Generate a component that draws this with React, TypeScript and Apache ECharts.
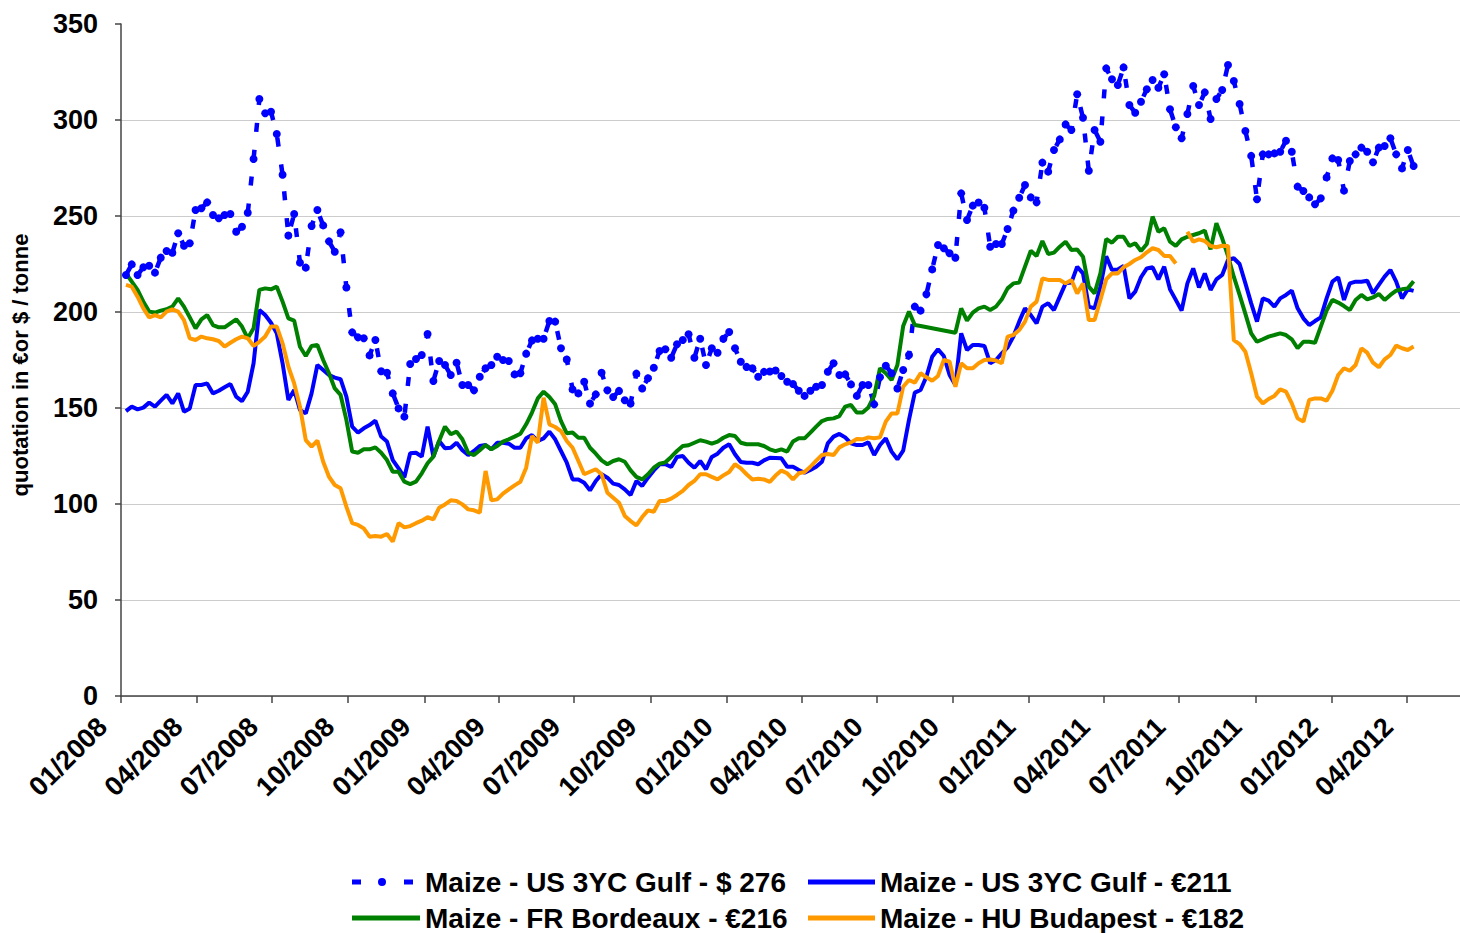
import React, { useEffect, useRef } from "react";
import * as echarts from "echarts";

// Weekly quotations starting Monday 7 Jan 2008
const FIRST_WEEK = "2008-01-07";

const TICK_LABELS = [
  "01/2008", "04/2008", "07/2008", "10/2008", "01/2009", "04/2009",
  "07/2009", "10/2009", "01/2010", "04/2010", "07/2010", "10/2010",
  "01/2011", "04/2011", "07/2011", "10/2011", "01/2012", "04/2012",
];

const SERIES_NAMES = [
  "Maize - US 3YC Gulf - $ 276",
  "Maize - US 3YC Gulf - €211",
  "Maize - FR Bordeaux - €216",
  "Maize - HU Budapest - €182",
];

const usGulfUsd = [
  219.3, 224.8, 219.3, 223.3, 224.1, 220.5, 228.3, 231.8, 230.9, 241.0,
  234.5, 235.8, 253.1, 254.0, 257.1, 250.5, 248.8, 250.5, 251.0, 241.8,
  244.4, 251.7, 279.7, 310.9, 303.5, 304.3, 292.7, 271.5, 239.8, 251.0,
  225.7, 223.1, 244.8, 253.1, 245.1, 236.8, 231.4, 241.5, 212.8, 189.4,
  186.8, 186.3, 177.4, 185.4, 169.1, 168.4, 157.6, 149.8, 145.5, 172.9,
  175.5, 177.6, 188.5, 164.1, 174.5, 172.4, 167.2, 173.6, 162.0, 162.0,
  159.2, 166.3, 170.7, 172.4, 176.7, 175.0, 174.5, 167.5, 168.1, 178.3,
  185.2, 186.1, 186.1, 195.3, 195.0, 181.1, 175.3, 159.7, 157.6, 163.7,
  152.3, 157.1, 168.4, 159.2, 155.7, 158.9, 154.0, 152.3, 167.9, 160.2,
  165.5, 171.0, 179.7, 180.6, 176.2, 183.2, 185.4, 188.4, 176.2, 186.1,
  172.4, 181.1, 178.8, 186.1, 189.6, 181.1, 174.1, 171.4, 170.7, 166.3,
  168.8, 169.0, 169.5, 166.7, 163.7, 162.5, 159.0, 156.3, 159.0, 161.1,
  162.0, 168.9, 173.3, 167.2, 167.5, 162.3, 156.3, 162.0, 162.0, 151.9,
  166.0, 172.0, 168.1, 160.2, 169.8, 177.6, 202.8, 200.7, 209.2, 222.2,
  234.9, 233.2, 230.6, 228.3, 261.8, 247.9, 255.4, 257.0, 254.3, 234.0,
  235.4, 235.4, 243.2, 252.8, 259.5, 266.1, 259.7, 257.1, 277.8, 273.1,
  284.4, 289.9, 297.7, 294.8, 313.4, 301.2, 273.6, 294.8, 288.7, 326.9,
  321.2, 318.2, 327.4, 307.8, 303.8, 309.5, 316.0, 320.8, 316.8, 323.8,
  305.6, 296.2, 290.5, 303.1, 317.7, 307.8, 314.4, 300.5, 310.9, 315.6,
  328.6, 320.3, 308.3, 294.3, 281.3, 258.7, 282.1, 282.1, 282.6, 283.5,
  289.2, 283.5, 265.3, 263.0, 259.7, 256.1, 259.2, 270.1, 280.0, 279.2,
  263.2, 278.6, 282.1, 285.6, 283.5, 278.0, 285.6, 286.5, 290.5, 282.1,
  274.8, 284.4, 276.0,
];

const usGulfEur = [
  148.4, 150.7, 149.3, 150.2, 152.8, 150.7, 153.8, 156.8, 152.4, 157.6,
  148.1, 149.8, 162.0, 162.0, 162.8, 157.6, 159.0, 160.8, 162.5, 155.9,
  153.6, 158.5, 173.3, 201.0, 198.4, 194.4, 188.9, 173.3, 154.2, 159.4,
  149.0, 147.2, 157.6, 172.4, 169.8, 167.2, 165.8, 165.0, 155.9, 140.3,
  137.2, 139.4, 141.1, 143.4, 135.1, 132.5, 122.9, 118.6, 113.9, 126.4,
  126.7, 124.7, 140.3, 124.7, 132.8, 129.0, 129.3, 131.9, 128.0, 125.5,
  127.6, 130.2, 130.7, 128.5, 131.9, 131.9, 131.4, 129.3, 129.3, 134.2,
  135.9, 132.8, 134.2, 137.7, 133.7, 127.6, 121.5, 112.8, 112.8, 111.1,
  107.1, 112.0, 115.5, 113.7, 110.6, 109.9, 107.6, 104.7, 112.0, 109.4,
  113.7, 117.5, 120.7, 120.7, 119.3, 124.5, 125.0, 121.5, 118.9, 122.4,
  118.1, 124.5, 126.2, 129.3, 131.1, 125.9, 121.9, 121.5, 121.5, 120.7,
  122.7, 124.1, 124.0, 123.8, 119.4, 119.4, 117.7, 116.3, 117.7, 119.4,
  122.0, 131.6, 135.1, 136.5, 134.7, 131.6, 130.7, 130.7, 132.1, 125.5,
  130.7, 134.2, 127.3, 123.3, 127.8, 143.8, 158.0, 159.4, 166.3, 176.7,
  180.6, 177.1, 167.2, 162.0, 188.9, 180.2, 182.8, 182.8, 182.3, 173.3,
  175.0, 178.5, 181.6, 187.2, 195.0, 201.9, 198.4, 194.1, 202.8, 204.5,
  201.0, 208.0, 214.9, 215.3, 223.6, 220.1, 202.8, 201.9, 213.2, 229.0,
  221.9, 222.2, 224.0, 207.1, 210.6, 218.1, 222.7, 223.3, 217.0, 223.6,
  211.8, 206.3, 200.7, 214.9, 222.7, 212.8, 220.1, 211.5, 217.0, 219.3,
  227.1, 228.0, 225.0, 214.9, 204.5, 195.0, 207.1, 205.9, 202.8, 207.1,
  208.9, 211.1, 201.9, 196.7, 193.2, 195.3, 197.2, 207.1, 215.8, 218.1,
  206.3, 214.9, 215.8, 215.8, 216.3, 209.7, 214.1, 218.4, 221.9, 215.8,
  207.1, 211.8, 211.0,
];

const frBordeaux = [
  220.1, 215.8, 211.5, 205.4, 200.2, 199.7, 200.7, 201.4, 202.8, 207.1,
  202.8, 197.2, 191.5, 196.2, 198.4, 193.2, 192.0, 192.0, 194.1, 196.2,
  192.4, 186.3, 191.5, 211.5, 212.3, 211.8, 213.2, 205.4, 196.7, 195.5,
  181.9, 177.1, 182.3, 182.8, 175.0, 168.1, 160.2, 156.8, 143.8, 127.3,
  126.7, 128.5, 128.5, 129.5, 126.7, 122.9, 116.8, 116.8, 111.6, 110.4,
  111.6, 116.0, 121.2, 124.7, 133.0, 140.3, 136.3, 137.7, 133.7, 126.7,
  125.5, 128.0, 130.7, 128.5, 130.2, 132.5, 133.7, 135.1, 136.6, 141.5,
  147.6, 155.0, 158.5, 155.7, 151.9, 143.2, 136.8, 137.2, 134.5, 134.5,
  129.3, 126.2, 122.7, 120.7, 122.4, 123.3, 122.0, 117.5, 114.1, 112.8,
  115.5, 118.9, 121.0, 121.7, 124.5, 127.6, 130.2, 130.6, 131.9, 133.2,
  132.5, 131.4, 132.5, 134.5, 135.9, 135.4, 131.9, 131.1, 131.1, 131.1,
  130.2, 128.5, 127.5, 128.5, 127.3, 132.5, 134.2, 134.2, 137.2, 140.3,
  143.2, 144.3, 144.6, 145.8, 150.7, 151.6, 147.6, 147.6, 150.3, 156.3,
  170.7, 168.1, 164.6, 172.4, 192.7, 200.2, 193.2, 192.7, null, null,
  null, null, null, 189.2, 201.9, 195.5, 199.7, 201.9, 202.8, 201.0,
  202.8, 206.6, 212.3, 214.9, 215.3, 223.6, 231.9, 229.2, 237.0, 230.2,
  230.9, 234.0, 236.6, 232.3, 232.6, 228.8, 213.2, 209.7, 220.1, 238.0,
  236.1, 239.2, 239.2, 234.4, 235.8, 231.8, 235.4, 249.7, 241.8, 243.6,
  236.6, 234.4, 237.8, 239.2, 240.1, 241.0, 242.4, 232.6, 246.2, 238.4,
  229.2, 218.4, 208.9, 199.0, 188.9, 184.5, 185.8, 187.2, 188.0, 188.9,
  188.0, 185.8, 181.1, 184.5, 184.5, 184.0, 192.4, 200.7, 206.3, 204.9,
  203.1, 201.0, 206.3, 208.9, 206.6, 207.6, 209.4, 206.3, 208.9, 211.1,
  211.8, 212.3, 216.0,
];

const huBudapest = [
  214.1, 213.2, 208.0, 201.9, 197.2, 198.4, 197.2, 200.2, 201.4, 200.2,
  195.8, 186.3, 185.4, 187.2, 186.3, 185.8, 184.9, 182.0, 184.0, 185.8,
  187.2, 186.3, 182.3, 184.5, 187.2, 192.4, 192.4, 183.7, 171.5, 162.8,
  150.7, 133.3, 129.9, 133.0, 122.0, 114.2, 109.9, 108.2, 98.6, 90.0,
  89.1, 87.3, 83.0, 83.3, 83.0, 84.4, 80.4, 90.0, 87.8, 88.5,
  90.0, 91.3, 93.1, 92.0, 98.1, 99.8, 101.9, 101.6, 99.8, 97.2,
  96.7, 95.5, 117.2, 101.9, 102.4, 105.4, 107.6, 109.7, 111.6, 118.9,
  135.4, 131.9, 155.4, 141.5, 140.1, 138.0, 132.8, 129.3, 122.4, 115.5,
  116.8, 118.1, 115.5, 105.9, 103.3, 100.7, 93.8, 91.1, 88.9, 93.2,
  96.7, 96.0, 101.6, 101.6, 102.8, 104.7, 106.8, 109.9, 112.0, 115.5,
  115.5, 114.1, 112.8, 114.9, 116.7, 120.7, 118.6, 115.5, 112.8, 113.2,
  112.8, 111.5, 114.8, 117.4, 116.0, 112.8, 116.0, 116.7, 119.4, 122.6,
  125.5, 126.0, 125.5, 129.5, 131.1, 132.1, 133.9, 133.7, 134.7, 134.2,
  134.7, 142.9, 147.2, 147.2, 161.1, 164.6, 163.2, 168.1, 166.0, 164.2,
  166.7, 175.0, 174.1, 161.1, 173.3, 170.7, 170.7, 173.3, 175.0, 175.3,
  174.7, 173.3, 187.2, 188.0, 190.6, 195.0, 202.8, 205.4, 217.5, 216.7,
  216.7, 216.7, 214.9, 216.7, 209.7, 214.9, 195.8, 195.8, 206.3, 217.0,
  220.1, 220.1, 223.3, 225.0, 227.1, 228.5, 231.1, 233.2, 232.3, 229.2,
  229.2, 225.3, null, 241.8, 236.6, 237.8, 237.0, 234.4, 233.7, 234.5,
  234.4, 185.4, 183.3, 179.3, 168.1, 155.9, 152.4, 154.7, 156.3, 159.7,
  158.5, 152.4, 144.6, 142.9, 154.2, 155.0, 155.0, 153.8, 159.0, 167.2,
  170.7, 169.4, 172.4, 181.1, 178.8, 173.6, 171.2, 175.3, 177.6, 182.5,
  181.1, 180.2, 182.0,
];

const FONT = "'Liberation Sans', Arial, sans-serif";
const DAY = 86400000;
// legend glyph for the dotted series: square dash, round dot, square dash
const DOTTED_ICON =
  "path://M0 1.5h9v5H0z M52 1.5h9v5h-9z M26 4a4 4 0 1 0 8 0a4 4 0 1 0 -8 0z M67.95 3.95h0.05v0.05h-0.05z";

const labelToTs = (s: string) => {
  const [m, y] = s.split("/").map(Number);
  return Date.UTC(y, m - 1, 1);
};
const tsToLabel = (v: number) => {
  const d = new Date(v);
  return String(d.getUTCMonth() + 1).padStart(2, "0") + "/" + d.getUTCFullYear();
};

export default function App() {
  const ref = useRef<HTMLDivElement>(null);

  useEffect(() => {
    if (!ref.current) return;
    const chart = echarts.init(ref.current, undefined, { renderer: "svg" });
    const start = Date.parse(FIRST_WEEK + "T00:00:00Z");
    const pairs = (vals: (number | null)[]) =>
      vals.map((v, i) => [start + i * 7 * DAY, v]);
    const tickValues = TICK_LABELS.map(labelToTs);

    const legendBase = {
      selectedMode: false,
      orient: "horizontal",
      padding: 0,
      textStyle: { fontFamily: FONT, fontWeight: "bold", fontSize: 28, color: "#000" },
    };

    chart.setOption({
      animation: false,
      backgroundColor: "#fff",
      grid: { left: 121, right: 0, top: 24, bottom: 237, containLabel: false },
      xAxis: {
        type: "value",
        min: Date.UTC(2008, 0, 1),
        max: Date.UTC(2012, 5, 4),
        scale: true,
        axisLine: { show: true, onZero: false, lineStyle: { color: "#444", width: 1.5 } },
        axisTick: { show: true, customValues: tickValues, length: 7, lineStyle: { color: "#444", width: 1.5 } },
        splitLine: { show: false },
        axisLabel: {
          customValues: tickValues,
          formatter: (v: number) => tsToLabel(v),
          rotate: 45,
          margin: 8,
          padding: [0, 26, 0, 0],
          fontFamily: FONT,
          fontWeight: "bold",
          fontSize: 27,
          color: "#000",
        },
      },
      yAxis: {
        type: "value",
        min: 0,
        max: 350,
        interval: 50,
        name: "quotation in €or $ / tonne",
        nameLocation: "middle",
        nameGap: 90,
        nameTextStyle: {
          fontFamily: FONT,
          fontWeight: "bold",
          fontSize: 22,
          color: "#000",
          padding: [0, 10, 0, 0],
        },
        axisLine: { show: true, lineStyle: { color: "#444", width: 1.5 } },
        axisTick: { show: true, length: 6, lineStyle: { color: "#444", width: 1.5 } },
        splitLine: { show: true, showMaxLine: false, lineStyle: { color: "#cccccc", width: 1 } },
        axisLabel: { fontFamily: FONT, fontWeight: "bold", fontSize: 27, color: "#000", margin: 23 },
      },
      legend: [
        { ...legendBase, data: [{ name: SERIES_NAMES[0], icon: DOTTED_ICON }], left: 352, top: 868, itemWidth: 68, itemHeight: 8 },
        { ...legendBase, data: [{ name: SERIES_NAMES[1], icon: "rect" }], left: 808, top: 868, itemWidth: 67, itemHeight: 5 },
        { ...legendBase, data: [{ name: SERIES_NAMES[2], icon: "rect" }], left: 352, top: 904, itemWidth: 68, itemHeight: 5 },
        { ...legendBase, data: [{ name: SERIES_NAMES[3], icon: "rect" }], left: 808, top: 904, itemWidth: 67, itemHeight: 5 },
      ],
      series: [
        {
          name: SERIES_NAMES[0],
          type: "line",
          data: pairs(usGulfUsd),
          symbol: "circle",
          symbolSize: 8,
          showSymbol: true,
          showAllSymbol: true,
          color: "#0000FF",
          itemStyle: { color: "#0000FF" },
          lineStyle: { color: "#0000FF", width: 4.5, type: [9, 18] },
          emphasis: { disabled: true },
        },
        {
          name: SERIES_NAMES[1],
          type: "line",
          data: pairs(usGulfEur),
          symbol: "none",
          color: "#0000FF",
          lineStyle: { color: "#0000FF", width: 4 },
          emphasis: { disabled: true },
        },
        {
          name: SERIES_NAMES[2],
          type: "line",
          data: pairs(frBordeaux),
          symbol: "none",
          connectNulls: true,
          color: "#008000",
          lineStyle: { color: "#008000", width: 4 },
          emphasis: { disabled: true },
        },
        {
          name: SERIES_NAMES[3],
          type: "line",
          data: pairs(huBudapest),
          symbol: "none",
          connectNulls: false,
          color: "#FF9900",
          lineStyle: { color: "#FF9900", width: 4 },
          emphasis: { disabled: true },
        },
      ],
    });
    return () => chart.dispose();
  }, []);

  return (
    <div
      ref={ref}
      style={{ position: "fixed", left: 0, top: 0, width: 1460, height: 933, background: "#fff" }}
    />
  );
}
